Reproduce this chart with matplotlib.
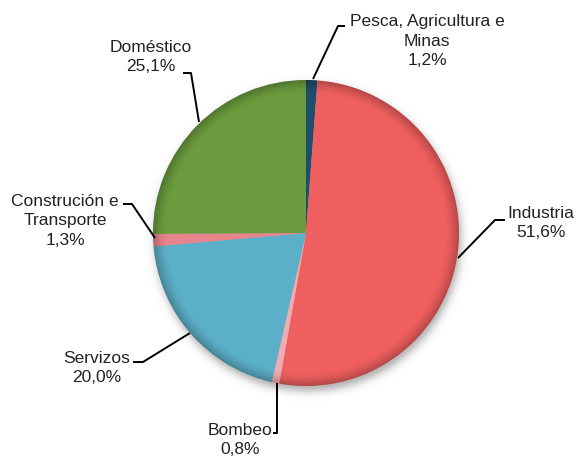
import numpy as np
import matplotlib
matplotlib.use("Agg")
import matplotlib.pyplot as plt
from matplotlib.patches import Circle

plt.rcParams['font.family'] = ['Liberation Sans', 'DejaVu Sans']

W, H = 580, 458

sectores = ["Pesca, Agricultura e\nMinas", "Industria", "Bombeo",
            "Servizos", "Construción e\nTransporte", "Doméstico"]
porcentaxes = [1.2, 51.6, 0.8, 20.0, 1.3, 25.1]
cores = ["#1e4e69", "#f05f5f", "#f2abb0", "#5cafc8", "#e8848d", "#6b9b3e"]

# label centre (px, y down) and leader polyline for each sector
pos_etiqueta = [(427, 41), (541, 223), (240, 440), (97, 368), (65, 221), (151, 57)]
guias = [
    [(345, 26), (338, 26), (313, 79)],
    [(505, 220), (495, 220), (458, 258)],
    [(273, 433), (277, 433), (277, 383)],
    [(133, 362), (143, 362), (190, 333)],
    [(123, 204), (132, 204), (155, 238)],
    [(183, 73), (191, 73), (199, 122)],
]

cx, cy, R = 306, 233, 153


def fy(y):
    return H - y


fig = plt.figure(figsize=(W / 100, H / 100), dpi=100)
ax = fig.add_axes([0, 0, 1, 1])
ax.set_xlim(0, W)
ax.set_ylim(0, H)
ax.set_aspect('equal')
ax.axis('off')

# soft drop shadow under the pie
xs = np.arange(cx - R - 20, cx + R + 20)
ys = np.arange(cy - R - 20, cy + R + 20)
gx, gy = np.meshgrid(xs + 0.5, ys + 0.5)
d = np.hypot(gx - (cx + 2), gy - (cy + 5))
sombra = np.zeros(gx.shape + (4,))
sombra[..., :3] = 0.35
sombra[..., 3] = 0.5 / (1 + np.exp((d - R) / 2.5))
ax.imshow(sombra, extent=(xs[0], xs[-1] + 1, fy(ys[-1] + 1), fy(ys[0])),
          origin='upper', zorder=1, interpolation='bilinear')

wedges, _ = ax.pie(porcentaxes, colors=cores, startangle=90, counterclock=False,
                   radius=R, center=(cx, fy(cy)), frame=True,
                   wedgeprops=dict(linewidth=0, zorder=2))
ax.set_xlim(0, W)
ax.set_ylim(0, H)
ax.axis('off')

# darker rim inside the pie
d0 = np.hypot(gx - cx, gy - cy)
borde = np.zeros(gx.shape + (4,))
borde[..., 3] = 0.26 * np.clip((d0 - (R - 14)) / 14, 0, 1) ** 1.6
im = ax.imshow(borde, extent=(xs[0], xs[-1] + 1, fy(ys[-1] + 1), fy(ys[0])),
               origin='upper', zorder=3, interpolation='bilinear')
im.set_clip_path(Circle((cx, fy(cy)), R, transform=ax.transData))

for nome, valor, (tx, ty), guia in zip(sectores, porcentaxes, pos_etiqueta, guias):
    texto = nome + "\n" + f"{valor:.1f}".replace(".", ",") + "%"
    ax.text(tx, fy(ty), texto, ha='center', va='center', fontsize=12.5,
            color="#222222", linespacing=1.4, zorder=5)
    px, py = zip(*guia)
    ax.plot(px, [fy(v) for v in py], color='black', lw=1.4, zorder=4,
            solid_capstyle='butt')

fig.savefig("out.png", dpi=100)
